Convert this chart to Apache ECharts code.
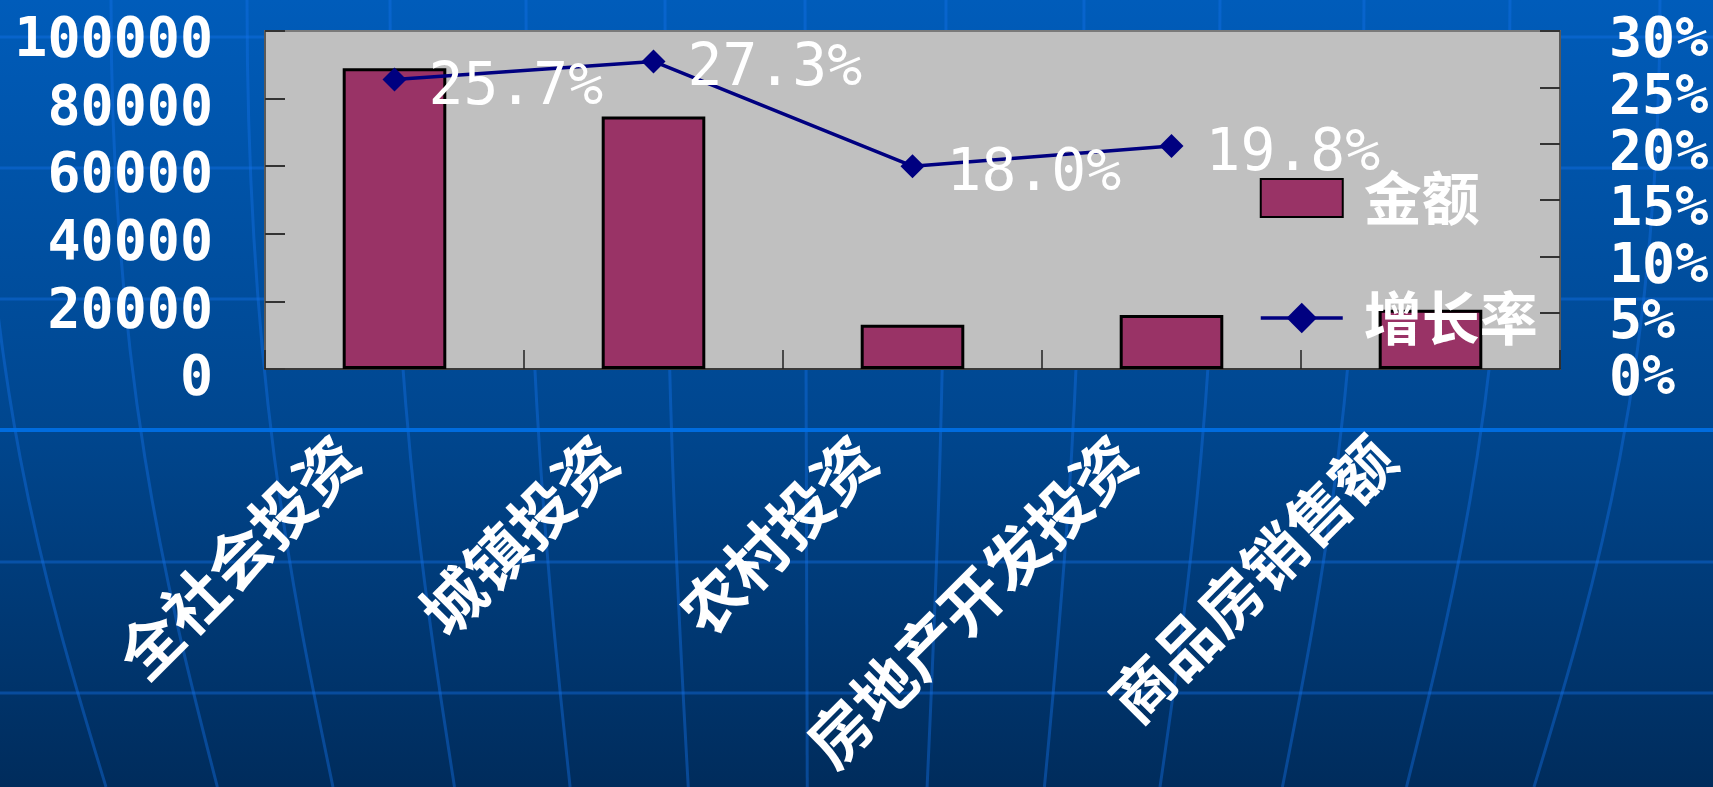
<!DOCTYPE html>
<html>
<head>
<meta charset="utf-8">
<script src="https://cdn.jsdelivr.net/npm/echarts@6/dist/echarts.min.js"></script>
<style>
html,body{margin:0;padding:0;background:#003f80;}
#chart{width:1713px;height:787px;}
</style>
</head>
<body>
<div id="chart"></div>
<script>
// ---- data ----
const categories = ['全社会投资', '城镇投资', '农村投资', '房地产开发投资', '商品房销售额'];
const amounts = [89000, 74700, 13100, 16000, 17500];
const growthRates = [25.7, 27.3, 18.0, 19.8, null];
const seriesNames = ['金额', '增长率'];

// ---- decorative background (template grid) ----
const W = 1713, H = 787;
const meridianTops = [-20, 111, 247, 390, 526, 665, 805, 946, 1084, 1220, 1364, 1510, 1660];
const parallels = [37, 168, 299, 562, 693];
const bg = [{
  type: 'rect', z: -100, silent: true,
  shape: {x: 0, y: 0, width: W, height: H},
  style: {fill: new echarts.graphic.LinearGradient(0, 0, 0, 1, [
    {offset: 0, color: '#005CBA'},
    {offset: 0.55, color: '#00468E'},
    {offset: 1, color: '#002C5C'}
  ])}
}];
const cx = 820;
meridianTops.forEach(function (x0) {
  const xb = cx + (x0 - cx) * 0.85;
  bg.push({
    type: 'bezierCurve', z: -90, silent: true,
    shape: {x1: x0, y1: 0, x2: xb, y2: H, cpx1: x0, cpy1: 380, cpx2: x0 + (xb - x0) * 0.55, cpy2: 600},
    style: {stroke: 'rgba(20,115,235,0.4)', lineWidth: 3, fill: null}
  });
});
parallels.forEach(function (y) {
  bg.push({
    type: 'line', z: -90, silent: true,
    shape: {x1: 0, y1: y, x2: W, y2: y},
    style: {stroke: 'rgba(20,115,235,0.4)', lineWidth: 3}
  });
});
bg.push({
  type: 'line', z: -89, silent: true,
  shape: {x1: 0, y1: 430, x2: W, y2: 430},
  style: {stroke: 'rgba(0,112,232,0.9)', lineWidth: 4}
});

const monoFont = 'DejaVu Sans Mono';
const cjkFont = 'Noto Sans CJK SC';
const tickLabelRich = {
  v: {color: '#ffffff', fontSize: 55, fontFamily: monoFont, fontWeight: 'bold', padding: [22, 0, 0, 0]}
};

const chart = echarts.init(document.getElementById('chart'), null, {renderer: 'canvas'});
chart.setOption({
  animation: false,
  backgroundColor: 'transparent',
  graphic: {elements: bg},
  grid: {
    left: 265, right: 153, top: 31, bottom: 418,
    containLabel: false, outerBoundsMode: 'none',
    show: true, backgroundColor: '#C0C0C0',
    borderColor: '#7A7A7A', borderWidth: 2
  },
  legend: {
    orient: 'vertical',
    left: 1254, top: 164,
    itemWidth: 82, itemHeight: 38, itemGap: 62,
    data: [{name: seriesNames[0], icon: 'rect'}, {name: seriesNames[1], lineStyle: {width: 3.5, color: '#000080'}}],
    textStyle: {color: '#ffffff', fontSize: 58, fontFamily: cjkFont, fontWeight: 'bold', lineHeight: 58, padding: [0, 0, 0, 16]}
  },
  xAxis: {
    type: 'category',
    data: categories,
    boundaryGap: true,
    axisLine: {show: true, lineStyle: {color: '#3A3A3A', width: 2}},
    axisTick: {show: true, inside: true, length: 19, lineStyle: {color: '#222', width: 1.5}},
    axisLabel: {
      rotate: 45, margin: 32, interval: 0,
      color: '#ffffff', fontSize: 62, fontFamily: cjkFont, fontWeight: 'bold',
      padding: [0, 66, 0, 0]
    },
    splitLine: {show: false}
  },
  yAxis: [{
    type: 'value', min: 0, max: 100000, interval: 20000,
    axisLine: {show: true, lineStyle: {color: '#5A5A5A', width: 2}},
    axisTick: {show: true, inside: true, length: 20, lineStyle: {color: '#333', width: 2}},
    axisLabel: {margin: 52, rich: tickLabelRich,
      formatter: function (v) { return '{v|' + v + '}'; }},
    splitLine: {show: false}
  }, {
    type: 'value', min: 0, max: 30, interval: 5,
    axisLine: {show: true, lineStyle: {color: '#5A5A5A', width: 2}},
    axisTick: {show: true, inside: true, length: 20, lineStyle: {color: '#333', width: 2}},
    axisLabel: {margin: 49, rich: tickLabelRich,
      formatter: function (v) { return '{v|' + v + '%}'; }},
    splitLine: {show: false}
  }],
  series: [{
    name: seriesNames[0],
    type: 'bar',
    data: amounts,
    barWidth: '40%',
    itemStyle: {color: '#993366', borderColor: '#000000', borderWidth: 3}
  }, {
    name: seriesNames[1],
    type: 'line',
    yAxisIndex: 1,
    data: growthRates,
    z: 5,
    symbol: 'diamond', symbolSize: 24,
    lineStyle: {color: '#000080', width: 3.5},
    itemStyle: {color: '#000080'},
    label: {
      show: true, position: 'right', distance: 22, offset: [0, 9],
      color: '#ffffff', fontSize: 58, fontFamily: monoFont,
      formatter: function (p) { return p.value == null ? '' : p.value.toFixed(1) + '%'; }
    }
  }]
});
</script>
</body>
</html>
